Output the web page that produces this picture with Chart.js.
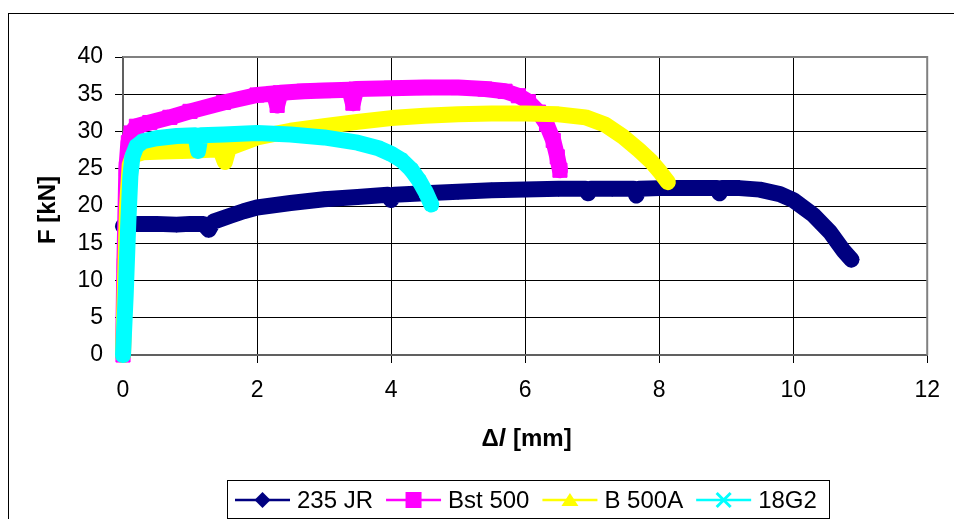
<!DOCTYPE html>
<html>
<head>
<meta charset="utf-8">
<script src="https://cdn.jsdelivr.net/npm/chart.js@4.4.1/dist/chart.umd.min.js"></script>
<style>
  body { margin: 0; background: #fff; }
  #wrap { width: 954px; height: 519px; }
</style>
</head>
<body>
<div id="wrap"><canvas id="myChart" width="954" height="519"></canvas></div>
<script>
// series names, colours and markers as in the legend
const seriesNames = ['235 JR', 'Bst 500', 'B 500A', '18G2'];
const seriesColors = ['#000080', '#ff00ff', '#ffff00', '#00ffff'];
const seriesMarkers = ['rectRot', 'rect', 'triangle', 'crossRot'];

// 235 JR
const jrX = [0, 0.2, 0.5, 0.8, 1.0, 1.2, 1.28, 1.35, 1.6, 1.8, 2.0, 2.5, 3.0, 3.5, 3.95, 4.0, 4.05, 4.5, 5.0, 5.5, 6.0, 6.5, 6.9, 6.94, 6.98, 7.3, 7.62, 7.66, 7.7, 8.0, 8.5, 8.86, 8.9, 8.94, 9.2, 9.5, 9.8, 10.0, 10.3, 10.55, 10.75, 10.87];
const jrF = [17.3, 17.6, 17.6, 17.5, 17.6, 17.6, 16.8, 17.9, 18.7, 19.3, 19.8, 20.4, 20.9, 21.2, 21.5, 20.8, 21.5, 21.7, 21.9, 22.1, 22.2, 22.3, 22.3, 21.7, 22.3, 22.3, 22.3, 21.4, 22.3, 22.4, 22.4, 22.4, 21.7, 22.4, 22.4, 22.2, 21.6, 20.8, 18.8, 16.5, 14.0, 12.8];

// Bst 500
const bstX = [0, 0.02, 0.05, 0.08, 0.12, 0.2, 0.4, 0.7, 1.0, 1.5, 2.0, 2.25, 2.3, 2.35, 2.7, 3.0, 3.38, 3.43, 3.48, 4.0, 4.5, 5.0, 5.4, 5.7, 5.9, 6.05, 6.2, 6.32, 6.42, 6.48, 6.52];
const bstF = [0, 12, 25, 28.5, 29.8, 30.7, 31.2, 31.9, 32.7, 33.9, 34.9, 35.1, 33.5, 35.2, 35.4, 35.5, 35.6, 33.8, 35.7, 35.8, 35.9, 35.9, 35.7, 35.4, 34.8, 34.0, 32.6, 31.0, 28.8, 26.6, 24.8];

// B 500A
const b500X = [0, 0.03, 0.06, 0.1, 0.15, 0.3, 0.6, 1.0, 1.45, 1.52, 1.58, 2.0, 2.5, 3.0, 3.5, 4.0, 4.5, 5.0, 5.5, 6.0, 6.5, 6.9, 7.2, 7.46, 7.7, 7.88, 8.02, 8.13];
const b500F = [0, 10, 20, 25.5, 26.8, 27.2, 27.3, 27.4, 27.6, 25.9, 27.8, 29.2, 30.1, 30.7, 31.3, 31.8, 32.1, 32.3, 32.4, 32.4, 32.3, 31.9, 30.9, 29.3, 27.5, 26.0, 24.5, 23.2];

// 18G2
const g2X = [0, 0.04, 0.08, 0.11, 0.14, 0.2, 0.3, 0.5, 0.8, 1.08, 1.12, 1.16, 1.5, 2.0, 2.5, 3.0, 3.5, 3.8, 4.0, 4.15, 4.3, 4.42, 4.52, 4.6];
const g2F = [0, 8, 18, 24, 26.6, 28.0, 28.7, 29.1, 29.4, 29.5, 27.4, 29.5, 29.6, 29.8, 29.6, 29.2, 28.5, 27.8, 27.0, 26.2, 24.9, 23.4, 21.8, 20.2];

const xTicks = [0, 2, 4, 6, 8, 10, 12];
const yTicks = [0, 5, 10, 15, 20, 25, 30, 35, 40];

const allX = [jrX, bstX, b500X, g2X];
const allF = [jrF, bstF, b500F, g2F];
const markerSize = [7.5, 10, 7, 8];

const fontName = '"Liberation Sans", Arial, sans-serif';

function toPoints(xs, fs) {
    return xs.map((x, i) => ({ x: x, y: fs[i] }));
}

let datasets = [];
for (let i = 0; i < seriesNames.length; i++) {
    datasets.push({
        label: seriesNames[i],
        data: toPoints(allX[i], allF[i]),
        showLine: true,
        borderColor: seriesColors[i],
        backgroundColor: seriesColors[i],
        borderWidth: 16,
        borderCapStyle: 'round',
        borderJoinStyle: 'round',
        tension: 0,
        pointStyle: seriesMarkers[i],
        pointRadius: markerSize[i],
        pointHoverRadius: markerSize[i],
        pointBorderWidth: i === 3 ? 3 : 1,
        pointBackgroundColor: seriesColors[i],
        pointBorderColor: seriesColors[i],
        order: 4 - i,
        clip: false
    });
}

// small marker drawing for the legend
function drawMarker(c, style, x, y, color) {
    c.save();
    c.fillStyle = color;
    c.strokeStyle = color;
    c.beginPath();
    if (style === 'rectRot') {
        c.moveTo(x, y - 8); c.lineTo(x + 8, y); c.lineTo(x, y + 8); c.lineTo(x - 8, y);
        c.closePath(); c.fill();
    } else if (style === 'rect') {
        c.fillRect(x - 8, y - 8, 16, 16);
    } else if (style === 'triangle') {
        c.moveTo(x, y - 7); c.lineTo(x + 8.5, y + 6); c.lineTo(x - 8.5, y + 6);
        c.closePath(); c.fill();
    } else {
        c.lineWidth = 3;
        c.moveTo(x - 7, y - 7); c.lineTo(x + 7, y + 7);
        c.moveTo(x + 7, y - 7); c.lineTo(x - 7, y + 7);
        c.stroke();
    }
    c.restore();
}

const framePlugin = {
    id: 'framePlugin',
    beforeDraw(chart) {
        const c = chart.ctx;
        c.save();
        c.fillStyle = '#fff';
        c.fillRect(0, 0, chart.width, chart.height);
        c.strokeStyle = '#000';
        c.lineWidth = 1;
        c.strokeRect(8.5, 13.5, chart.width + 20, chart.height + 20);
        c.restore();
    },
    beforeDatasetsDraw(chart) {
        const a = chart.chartArea;
        const c = chart.ctx;
        c.save();
        c.strokeStyle = '#808080';
        c.lineWidth = 2;
        c.beginPath();
        c.moveTo(a.left, a.top);
        c.lineTo(a.right, a.top);
        c.lineTo(a.right, a.bottom);
        c.stroke();
        c.restore();
    },
    afterDraw(chart) {
        const c = chart.ctx;
        c.save();
        c.fillStyle = '#000';

        // y title
        c.font = 'bold 24px ' + fontName;
        c.textAlign = 'center';
        c.textBaseline = 'middle';
        c.translate(48, 210);
        c.rotate(-Math.PI / 2);
        c.fillText('F [kN]', 0, 0);
        c.setTransform(1, 0, 0, 1, 0, 0);

        // x title, l in italic
        c.textAlign = 'left';
        const partA = 'Δ', partB = 'l', partC = ' [mm]';
        c.font = 'bold 24px ' + fontName;
        const wA = c.measureText(partA).width;
        const wC = c.measureText(partC).width;
        c.font = 'italic bold 24px ' + fontName;
        const wB = c.measureText(partB).width;
        let tx = 526 - (wA + wB + wC) / 2;
        const ty = 439;
        c.font = 'bold 24px ' + fontName;
        c.fillText(partA, tx, ty);
        c.font = 'italic bold 24px ' + fontName;
        c.fillText(partB, tx + wA, ty);
        c.font = 'bold 24px ' + fontName;
        c.fillText(partC, tx + wA + wB + 1, ty);

        // legend box
        c.strokeStyle = '#000';
        c.lineWidth = 1;
        c.strokeRect(227.5, 480.5, 602, 38);
        c.font = '24px ' + fontName;
        let lx = 235;
        const ly = 500;
        for (let i = 0; i < seriesNames.length; i++) {
            c.strokeStyle = seriesColors[i];
            c.lineWidth = 2.5;
            c.beginPath();
            c.moveTo(lx, ly);
            c.lineTo(lx + 55, ly);
            c.stroke();
            drawMarker(c, seriesMarkers[i], lx + 27.5, ly, seriesColors[i]);
            c.fillStyle = '#000';
            c.fillText(seriesNames[i], lx + 62, ly + 1);
            lx += 62 + c.measureText(seriesNames[i]).width + 13;
        }
        c.restore();
    }
};

const ctx = document.getElementById('myChart');
new Chart(ctx, {
    type: 'scatter',
    data: { datasets: datasets },
    options: {
        responsive: false,
        animation: false,
        devicePixelRatio: 1,
        events: [],
        layout: { padding: { top: 57, right: 24, left: 0, bottom: 0 } },
        plugins: {
            legend: { display: false },
            tooltip: { enabled: false }
        },
        scales: {
            x: {
                type: 'linear',
                min: xTicks[0],
                max: xTicks[xTicks.length - 1],
                afterFit: (scale) => { scale.height = 164; },
                afterBuildTicks: (scale) => { scale.ticks = xTicks.map(v => ({ value: v })); },
                ticks: {
                    color: '#000',
                    font: { family: fontName, size: 23 },
                    padding: 14,
                    maxRotation: 0
                },
                grid: { color: '#000', lineWidth: 1, tickLength: 8, tickColor: '#000' },
                border: { display: true, color: '#606060', width: 2 }
            },
            y: {
                type: 'linear',
                min: yTicks[0],
                max: yTicks[yTicks.length - 1],
                afterFit: (scale) => { scale.width = 123; },
                afterBuildTicks: (scale) => { scale.ticks = yTicks.map(v => ({ value: v })); },
                ticks: {
                    color: '#000',
                    font: { family: fontName, size: 23 },
                    padding: 12
                },
                grid: { color: '#000', lineWidth: 1, tickLength: 8, tickColor: '#000' },
                border: { display: true, color: '#606060', width: 2 }
            }
        }
    },
    plugins: [framePlugin]
});
</script>
</body>
</html>
